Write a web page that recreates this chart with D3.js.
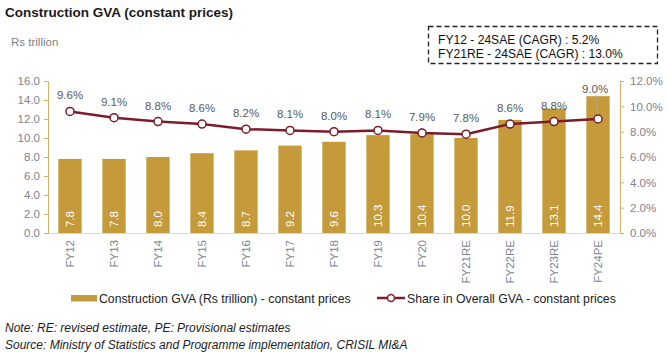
<!DOCTYPE html>
<html><head><meta charset="utf-8">
<script src="https://cdn.jsdelivr.net/npm/d3@7"></script>
<style>body{margin:0;background:#fff;}svg{font-family:"Liberation Sans",Arial,sans-serif;}</style>
</head><body><svg id="c" width="669" height="352"></svg>
<script>
const categories = ["FY12","FY13","FY14","FY15","FY16","FY17","FY18","FY19","FY20","FY21RE","FY22RE","FY23RE","FY24PE"];
const gvaValues = [7.8,7.8,8.0,8.4,8.7,9.2,9.6,10.3,10.4,10.0,11.9,13.1,14.4];
const shareValues = [9.6,9.1,8.8,8.6,8.2,8.1,8.0,8.1,7.9,7.8,8.6,8.8,9.0];
const leftTicks = [0,2,4,6,8,10,12,14,16];
const rightTicks = [0,2,4,6,8,10,12];

const svg = d3.select("#c");
const barColor = "#C49A3A", lineColor = "#7B1C2A", grey = "#80838f", axisGold = "#D4B06A";
const plotTop = 81, plotBottom = 233, plotLeft = 48, plotRight = 620;

const x = d3.scaleBand().domain(categories).range([plotLeft, plotRight]).paddingInner(0.47).paddingOuter(0.235);
const yL = d3.scaleLinear().domain([0,16]).range([plotBottom, plotTop]);
const yR = d3.scaleLinear().domain([0,12]).range([plotBottom, plotTop]);

// title
svg.append("text").attr("x",5).attr("y",17).attr("font-weight","bold").attr("font-size",13.5).attr("fill","#1a1a1a").text("Construction GVA (constant prices)");
svg.append("text").attr("x",11).attr("y",46).attr("font-size",11.5).attr("fill","#808080").text("Rs trillion");

// CAGR box
svg.append("rect").attr("x",428.5).attr("y",26.5).attr("width",229).attr("height",37).attr("fill","none").attr("stroke","#222").attr("stroke-width",1.3).attr("stroke-dasharray","5,3");
svg.append("text").attr("x",438).attr("y",43.5).attr("font-size",12.1).attr("fill","#111").text("FY12 - 24SAE (CAGR) : 5.2%");
svg.append("text").attr("x",438).attr("y",57.5).attr("font-size",12.1).attr("fill","#111").text("FY21RE - 24SAE (CAGR) : 13.0%");

// baseline
svg.append("line").attr("x1",plotLeft).attr("x2",plotRight).attr("y1",plotBottom+0.5).attr("y2",plotBottom+0.5).attr("stroke","#d9d9d9");

// left axis
const gL = svg.append("g").attr("transform",`translate(${plotLeft},0)`).call(d3.axisLeft(yL).tickValues(leftTicks).tickFormat(d3.format(".1f")).tickSize(4).tickPadding(4));
gL.selectAll("path,line").attr("stroke",axisGold);
gL.selectAll("text").attr("fill",grey).attr("font-size",11.5).attr("font-family","Liberation Sans, Arial, sans-serif");

// right axis
const gR = svg.append("g").attr("transform",`translate(${plotRight},0)`).call(d3.axisRight(yR).tickValues(rightTicks).tickFormat(d=>d.toFixed(1)+"%").tickSize(4).tickPadding(6));
gR.selectAll("path,line").attr("stroke",axisGold);
gR.selectAll("text").attr("fill",grey).attr("font-size",11.5).attr("font-family","Liberation Sans, Arial, sans-serif");

// bars
svg.append("g").selectAll("rect").data(gvaValues).join("rect")
  .attr("x",(d,i)=>x(categories[i])).attr("width",x.bandwidth())
  .attr("y",d=>yL(d)).attr("height",d=>plotBottom-yL(d)).attr("fill",barColor);

// bar labels
svg.append("g").selectAll("text").data(gvaValues).join("text")
  .attr("transform",(d,i)=>`translate(${x(categories[i])+x.bandwidth()/2+4},${plotBottom-6}) rotate(-90)`)
  .attr("font-size",11.5).attr("fill","#fff").text(d=>d.toFixed(1));

// x labels
svg.append("g").selectAll("text").data(categories).join("text")
  .attr("transform",(d)=>`translate(${x(d)+x.bandwidth()/2+4},${plotBottom+7}) rotate(-90)`)
  .attr("text-anchor","end").attr("font-size",11.5).attr("fill",grey).text(d=>d);

// line
const cx = (i)=>x(categories[i])+x.bandwidth()/2;
svg.append("path").datum(shareValues)
  .attr("d",d3.line().x((d,i)=>cx(i)).y(d=>yR(d)))
  .attr("fill","none").attr("stroke",lineColor).attr("stroke-width",2.5);

// leader line for last label
const li = shareValues.length-1;
svg.append("line").attr("x1",cx(li)-0.5).attr("y1",yR(shareValues[li])-4).attr("x2",cx(li)-2).attr("y2",95).attr("stroke","#aaa").attr("stroke-width",0.8);

svg.append("g").selectAll("circle").data(shareValues).join("circle")
  .attr("cx",(d,i)=>cx(i)).attr("cy",d=>yR(d)).attr("r",4)
  .attr("fill","#fff").attr("stroke",lineColor).attr("stroke-width",1.5);

svg.append("g").selectAll("text").data(shareValues).join("text")
  .attr("x",(d,i)=>cx(i)-(i===li?3:0))
  .attr("y",(d,i)=>i===li?93:yR(d)-12)
  .attr("text-anchor","middle").attr("font-size",11.5).attr("fill","#595959").text(d=>d.toFixed(1)+"%");

// legend
svg.append("rect").attr("x",71).attr("y",295).attr("width",26).attr("height",6.5).attr("fill",barColor);
svg.append("text").attr("x",99).attr("y",302.5).attr("font-size",12.25).attr("fill","#222").text("Construction GVA (Rs trillion) - constant prices");
svg.append("line").attr("x1",377).attr("x2",405).attr("y1",298).attr("y2",298).attr("stroke",lineColor).attr("stroke-width",2.5);
svg.append("circle").attr("cx",391).attr("cy",298).attr("r",3.5).attr("fill","#fff").attr("stroke",lineColor).attr("stroke-width",1.5);
svg.append("text").attr("x",407).attr("y",302.5).attr("font-size",12.25).attr("fill","#222").text("Share in Overall GVA - constant prices");

// notes
svg.append("text").attr("x",5).attr("y",331.5).attr("font-size",12).attr("font-style","italic").attr("fill","#222").text("Note: RE: revised estimate, PE: Provisional estimates");
svg.append("text").attr("x",5).attr("y",348.5).attr("font-size",12).attr("font-style","italic").attr("fill","#222").text("Source: Ministry of Statistics and Programme implementation, CRISIL MI&A");
</script></body></html>
